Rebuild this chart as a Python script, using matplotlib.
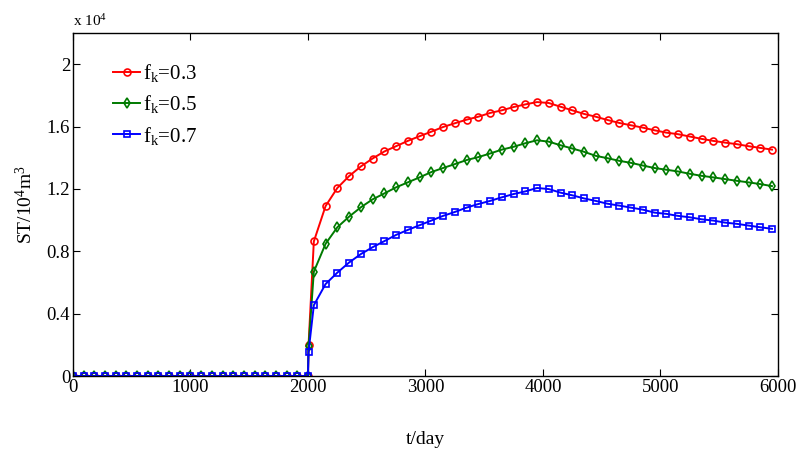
import numpy as np
import matplotlib
matplotlib.use('Agg')
import matplotlib.pyplot as plt

plt.rcParams['font.family'] = 'Liberation Serif'
plt.rcParams['mathtext.fontset'] = 'custom'
plt.rcParams['mathtext.rm'] = 'Liberation Serif'
plt.rcParams['mathtext.it'] = 'Liberation Serif:italic'

# time axis (days): zero storage before injection, then 100-day steps
t_pre = np.linspace(0, 2000, 23)
t_jump = 2005
t_post = np.arange(2050, 6000, 100)

# ST in units of 1e4 m^3
jump_03 = 0.20
jump_05 = 0.19
jump_07 = 0.155

st_03 = [0.863, 1.09, 1.206, 1.282, 1.344, 1.395, 1.44, 1.474, 1.508, 1.538,
         1.567, 1.597, 1.621, 1.644, 1.663, 1.687, 1.704, 1.725, 1.742, 1.757,
         1.751, 1.727, 1.704, 1.681, 1.663, 1.642, 1.623, 1.608, 1.593, 1.576,
         1.561, 1.551, 1.536, 1.521, 1.508, 1.497, 1.487, 1.474, 1.463, 1.452]
st_05 = [0.669, 0.848, 0.954, 1.022, 1.082, 1.133, 1.171, 1.21, 1.242, 1.274,
         1.308, 1.334, 1.359, 1.385, 1.404, 1.427, 1.452, 1.470, 1.493, 1.512,
         1.503, 1.48, 1.459, 1.438, 1.412, 1.397, 1.380, 1.367, 1.350, 1.334,
         1.323, 1.312, 1.297, 1.284, 1.274, 1.263, 1.252, 1.242, 1.231, 1.218]
st_07 = [0.454, 0.59, 0.663, 0.728, 0.782, 0.826, 0.865, 0.905, 0.937, 0.967,
         0.997, 1.027, 1.052, 1.08, 1.103, 1.123, 1.146, 1.167, 1.184, 1.206,
         1.199, 1.176, 1.159, 1.139, 1.123, 1.105, 1.093, 1.080, 1.067, 1.048,
         1.040, 1.027, 1.018, 1.005, 0.997, 0.984, 0.976, 0.965, 0.954, 0.944]

labels = ['f$_{\\mathrm{k}}$=0.3', 'f$_{\\mathrm{k}}$=0.5', 'f$_{\\mathrm{k}}$=0.7']
colors = ['#ff0000', '#007a00', '#0000ff']
markers = ['o', 'd', 's']
msizes = [5, 5.5, 4.8]

fig = plt.figure(figsize=(7.97, 4.5), dpi=100)
ax = fig.add_axes([0.0916, 0.1644, 0.8844, 0.7623])

series = [(jump_03, st_03), (jump_05, st_05), (jump_07, st_07)]
for (j, st), lab, c, m, ms in zip(series, labels, colors, markers, msizes):
    t = np.concatenate([t_pre, [t_jump], t_post])
    y = np.concatenate([np.zeros(len(t_pre)), [j], st])
    ax.plot(t, y, color=c, marker=m, markersize=ms,
            markerfacecolor='none', markeredgewidth=1.2, linewidth=1.4, label=lab)

ax.set_xlim(0, 6000)
ax.set_ylim(0, 2.2)
ax.set_xticks([0, 1000, 2000, 3000, 4000, 5000, 6000])
ax.set_yticks([0, 0.4, 0.8, 1.2, 1.6, 2.0])
ax.set_yticklabels(['0', '0.4', '0.8', '1.2', '1.6', '2'])
ax.tick_params(direction='in', top=True, right=True, length=5, labelsize=13.5,
               colors='black', pad=2)
for sp in ax.spines.values():
    sp.set_linewidth(1.0)

ax.text(0, 1.012, 'x 10$^{4}$', transform=ax.transAxes, fontsize=11, va='bottom', ha='left')
ax.set_xlabel('t/day', fontsize=14, labelpad=25)
ax.set_ylabel('ST/10$^{4}$m$^{3}$', fontsize=14, labelpad=8)

leg = ax.legend(loc='upper left', bbox_to_anchor=(0.045, 0.94), frameon=False,
                fontsize=15, handlelength=1.3, handletextpad=0.15, labelspacing=0.45,
                borderaxespad=0)

fig.savefig('out.png', dpi=100)
